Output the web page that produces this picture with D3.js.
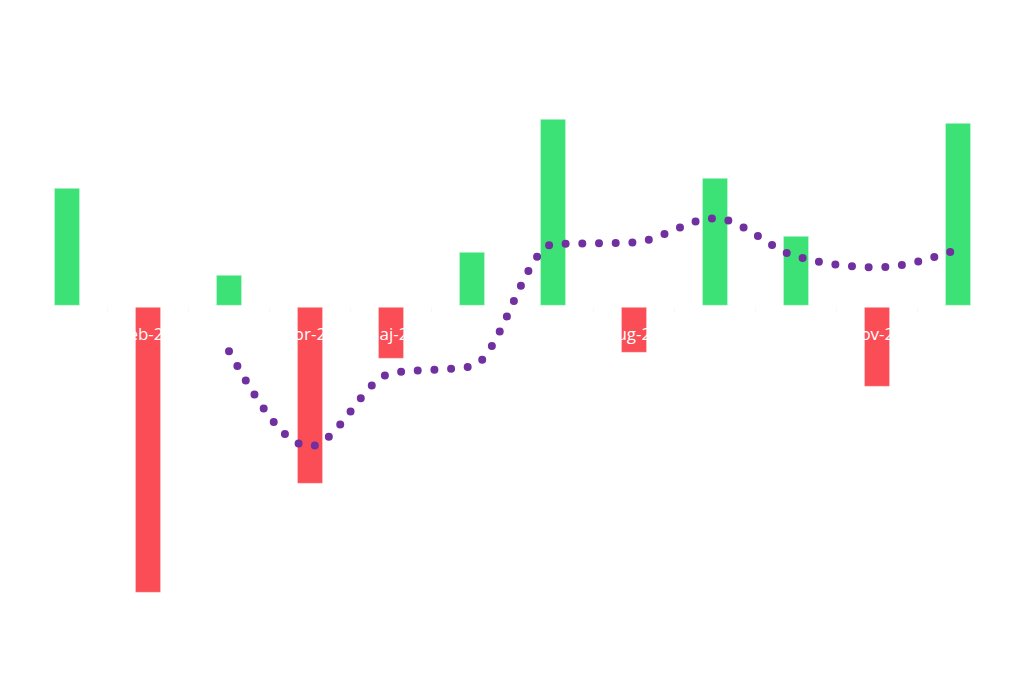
<!DOCTYPE html>
<html>
<head>
<meta charset="utf-8">
<script src="https://cdn.jsdelivr.net/npm/d3@7"></script>
<style>
  body { margin: 0; background: #ffffff; }
  svg { display: block; }
</style>
</head>
<body>
<div id="chart"></div>
<script>
// data: monthly result (bars) and 3-month trend (dotted line)
const months = ["jan-23", "feb-23", "mar-23", "apr-23", "maj-23", "jun-23",
                "jul-23", "aug-23", "sep-23", "okt-23", "nov-23", "dec-23"];
const values = [118, -286, 31, -177, -52, 54, 187, -46, 128, 70, -80, 183];
const trendMonths = months.slice(2);
const trend = [-45, -140, -67, -60, 62, 64, 88, 50, 39, 57];

const width = 1024, height = 683;

const svg = d3.select("#chart").append("svg")
    .attr("width", width)
    .attr("height", height);

// scales
const x = d3.scaleBand()
    .domain(months)
    .range([26.5, 998.5])
    .paddingInner(0.69)
    .paddingOuter(0.345);

const y = d3.scaleLinear()
    .domain([-300, 200])
    .range([606.3, 106.3]);

// bars
svg.append("g")
    .selectAll("rect")
    .data(values)
    .join("rect")
    .attr("x", (d, i) => x(months[i]))
    .attr("width", x.bandwidth())
    .attr("y", d => d >= 0 ? y(d) : y(0) + 1)
    .attr("height", d => Math.abs(y(d) - y(0)) - 1)
    .attr("fill", d => d >= 0 ? "#3de276" : "#fb4d55")
    .attr("stroke", "rgba(255,255,255,0.35)")
    .attr("stroke-width", 1);

// category axis at zero, labels white
const axis = svg.append("g")
    .attr("transform", `translate(0,${y(0)})`);

axis.selectAll("line.tick")
    .data(months.slice(1))
    .join("line")
    .attr("class", "tick")
    .attr("x1", d => x(d) - x.step() * x.paddingInner() / 2)
    .attr("x2", d => x(d) - x.step() * x.paddingInner() / 2)
    .attr("y1", 1)
    .attr("y2", 6)
    .attr("stroke", "#f8f8f8");

axis.selectAll("text")
    .data(months)
    .join("text")
    .attr("x", d => x(d) + x.bandwidth() / 2)
    .attr("y", 34)
    .attr("text-anchor", "middle")
    .attr("font-family", "'Open Sans', 'Liberation Sans', sans-serif")
    .attr("font-size", 17)
    .attr("fill", "#ffffff")
    .text(d => d);

// dotted trend line
const line = d3.line()
    .x((d, i) => x(trendMonths[i]) + x.bandwidth() / 2)
    .y(d => y(d))
    .curve(d3.curveMonotoneX);

svg.append("path")
    .datum(trend)
    .attr("d", line)
    .attr("fill", "none")
    .attr("stroke", "#7030a0")
    .attr("stroke-width", 8)
    .attr("stroke-linecap", "round")
    .attr("stroke-dasharray", "0 16.7");
</script>
</body>
</html>
